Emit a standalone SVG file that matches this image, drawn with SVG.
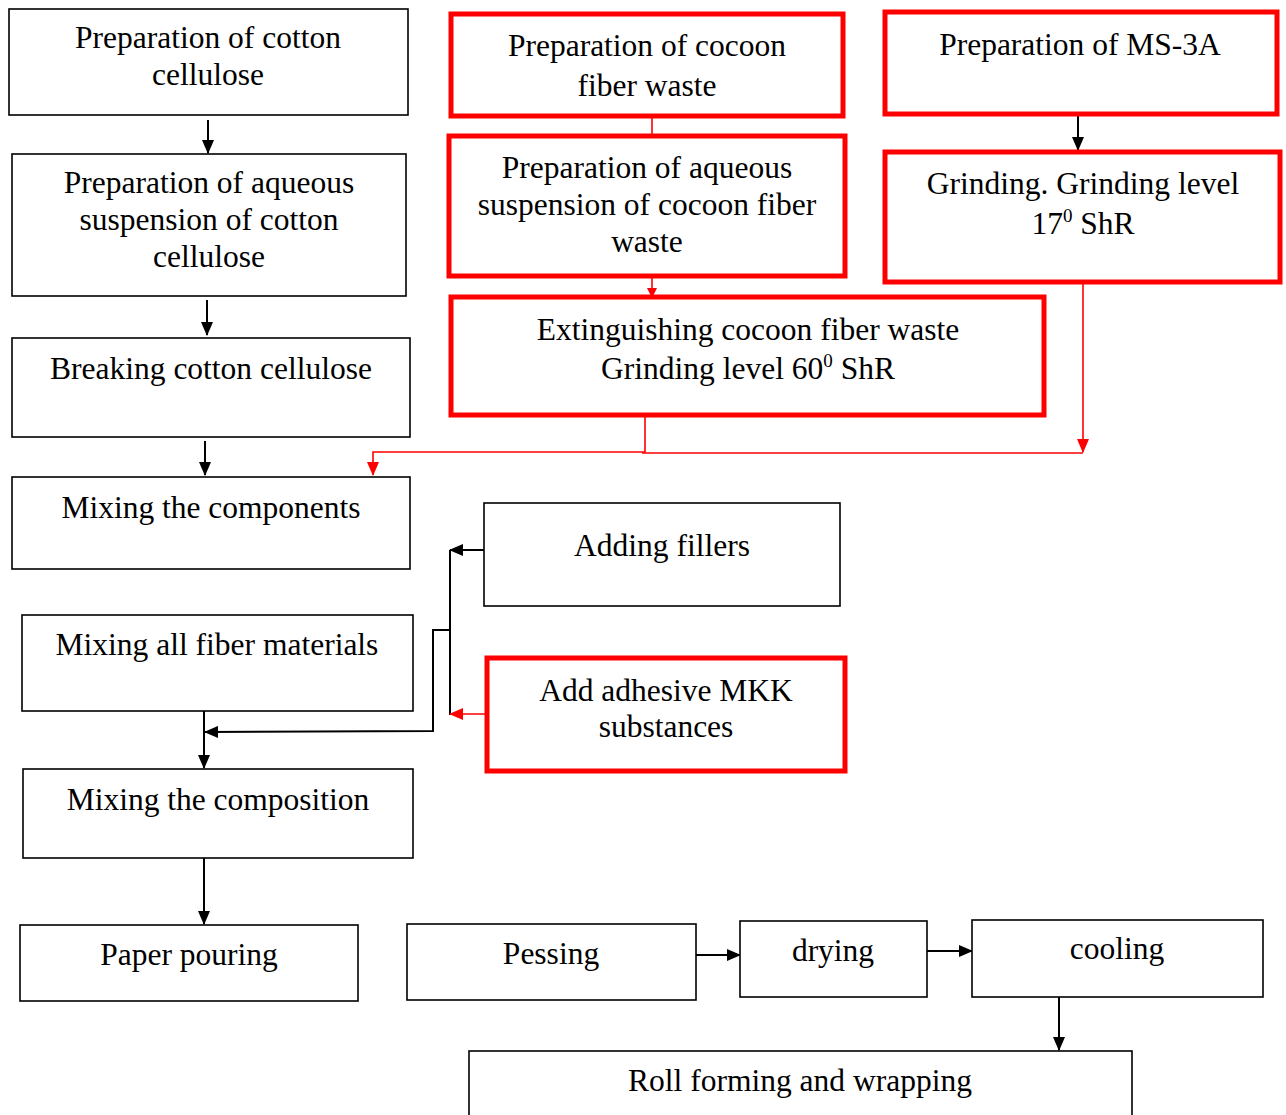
<svg xmlns="http://www.w3.org/2000/svg" width="1286" height="1115" viewBox="0 0 1286 1115">
<defs>
<marker id="ab" markerWidth="10" markerHeight="10" refX="9" refY="5" orient="auto" markerUnits="userSpaceOnUse" viewBox="0 0 10 10"><path d="M0,0 L10,5 L0,10 z" fill="#000"/></marker>
<marker id="ar" markerWidth="10" markerHeight="10" refX="9" refY="5" orient="auto" markerUnits="userSpaceOnUse" viewBox="0 0 10 10"><path d="M0,0 L10,5 L0,10 z" fill="#f00"/></marker>
<marker id="abL" markerWidth="14" markerHeight="12" refX="13" refY="6" orient="auto" markerUnits="userSpaceOnUse" viewBox="0 0 14 12"><path d="M0,0 L14,6 L0,12 z" fill="#000"/></marker>
<marker id="arL" markerWidth="14" markerHeight="12" refX="13" refY="6" orient="auto" markerUnits="userSpaceOnUse" viewBox="0 0 14 12"><path d="M0,0 L14,6 L0,12 z" fill="#f00"/></marker>
</defs>
<style>
.b{fill:#fff;stroke:#000;stroke-width:1.6}
.r{fill:#fff;stroke:#f00;stroke-width:5}
text{font-family:"Liberation Serif","Times New Roman",serif;font-size:31.5px;fill:#000;text-anchor:middle}
.sup{font-size:19px}
.cb{fill:none;stroke:#000;stroke-width:2}
.cr{fill:none;stroke:#f00;stroke-width:1.6}
</style>
<rect width="1286" height="1115" fill="#fff"/>
<g id="connectors">
<line class="cb" x1="208" y1="120" x2="208" y2="153" marker-end="url(#abL)"/>
<line class="cb" x1="207" y1="300" x2="207" y2="335" marker-end="url(#abL)"/>
<line class="cb" x1="205" y1="441" x2="205" y2="475" marker-end="url(#abL)"/>
<line class="cr" x1="652" y1="116" x2="652" y2="136"/>
<line class="cr" x1="652" y1="276" x2="652" y2="297" marker-end="url(#ar)"/>
<line class="cb" x1="1078" y1="116" x2="1078" y2="150" marker-end="url(#abL)"/>
<polyline class="cr" points="645,415 645,452 373,452 373,475" marker-end="url(#arL)"/>
<line class="cr" x1="642" y1="453" x2="1083" y2="453"/>
<line class="cr" x1="1083" y1="284" x2="1083" y2="452" marker-end="url(#arL)"/>
<line class="cb" x1="484" y1="550" x2="450" y2="550" marker-end="url(#abL)"/>
<line class="cb" x1="450" y1="550" x2="450" y2="715"/>
<polyline class="cb" points="450,630 433,630 433,731 205,732" marker-end="url(#abL)"/>
<line class="cr" x1="487" y1="714" x2="450" y2="714" marker-end="url(#arL)"/>
<line class="cb" x1="204" y1="711" x2="204" y2="768" marker-end="url(#abL)"/>
<line class="cb" x1="204" y1="857" x2="204" y2="924" marker-end="url(#abL)"/>
<line class="cb" x1="696" y1="955" x2="740" y2="955" marker-end="url(#abL)"/>
<line class="cb" x1="927" y1="951" x2="972" y2="951" marker-end="url(#abL)"/>
<line class="cb" x1="1059" y1="997" x2="1059" y2="1050" marker-end="url(#abL)"/>
</g>
<g id="n1"><rect class="b" x="9" y="9" width="399" height="106"/><text x="208" y="48">Preparation of cotton</text><text x="208" y="85">cellulose</text></g>
<g id="n2"><rect class="r" x="451" y="14" width="392" height="102"/><text x="647" y="56">Preparation of cocoon</text><text x="647" y="96">fiber waste</text></g>
<g id="n3"><rect class="r" x="885" y="12" width="392" height="102"/><text x="1080" y="55">Preparation of MS-3A</text></g>
<g id="n4"><rect class="b" x="12" y="154" width="394" height="142"/><text x="209" y="193">Preparation of aqueous</text><text x="209" y="230">suspension of cotton</text><text x="209" y="267">cellulose</text></g>
<g id="n5"><rect class="r" x="449" y="136" width="396" height="140"/><text x="647" y="178">Preparation of aqueous</text><text x="647" y="215">suspension of cocoon fiber</text><text x="647" y="252">waste</text></g>
<g id="n6"><rect class="r" x="885" y="152" width="395" height="130"/><text x="1083" y="194">Grinding. Grinding level</text><text x="1083" y="234">17<tspan class="sup" dy="-12">0</tspan><tspan dy="12"> ShR</tspan></text></g>
<g id="n7"><rect class="b" x="12" y="338" width="398" height="99"/><text x="211" y="379">Breaking cotton cellulose</text></g>
<g id="n8"><rect class="r" x="451" y="297" width="593" height="118"/><text x="748" y="340">Extinguishing cocoon fiber waste</text><text x="748" y="379">Grinding level 60<tspan class="sup" dy="-12">0</tspan><tspan dy="12"> ShR</tspan></text></g>
<g id="n9"><rect class="b" x="12" y="477" width="398" height="92"/><text x="211" y="518">Mixing the components</text></g>
<g id="n10"><rect class="b" x="484" y="503" width="356" height="103"/><text x="662" y="556">Adding fillers</text></g>
<g id="n11"><rect class="b" x="22" y="615" width="391" height="96"/><text x="217" y="655">Mixing all fiber materials</text></g>
<g id="n12"><rect class="r" x="487" y="658" width="358" height="113"/><text x="666" y="701">Add adhesive MKK</text><text x="666" y="737">substances</text></g>
<g id="n13"><rect class="b" x="23" y="769" width="390" height="89"/><text x="218" y="810">Mixing the composition</text></g>
<g id="n14"><rect class="b" x="20" y="925" width="338" height="76"/><text x="189" y="965">Paper pouring</text></g>
<g id="n15"><rect class="b" x="407" y="924" width="289" height="76"/><text x="551" y="964">Pessing</text></g>
<g id="n16"><rect class="b" x="740" y="921" width="187" height="76"/><text x="833" y="961">drying</text></g>
<g id="n17"><rect class="b" x="972" y="920" width="291" height="77"/><text x="1117" y="959">cooling</text></g>
<g id="n18"><rect class="b" x="469" y="1051" width="663" height="80"/><text x="800" y="1091">Roll forming and wrapping</text></g>
</svg>
